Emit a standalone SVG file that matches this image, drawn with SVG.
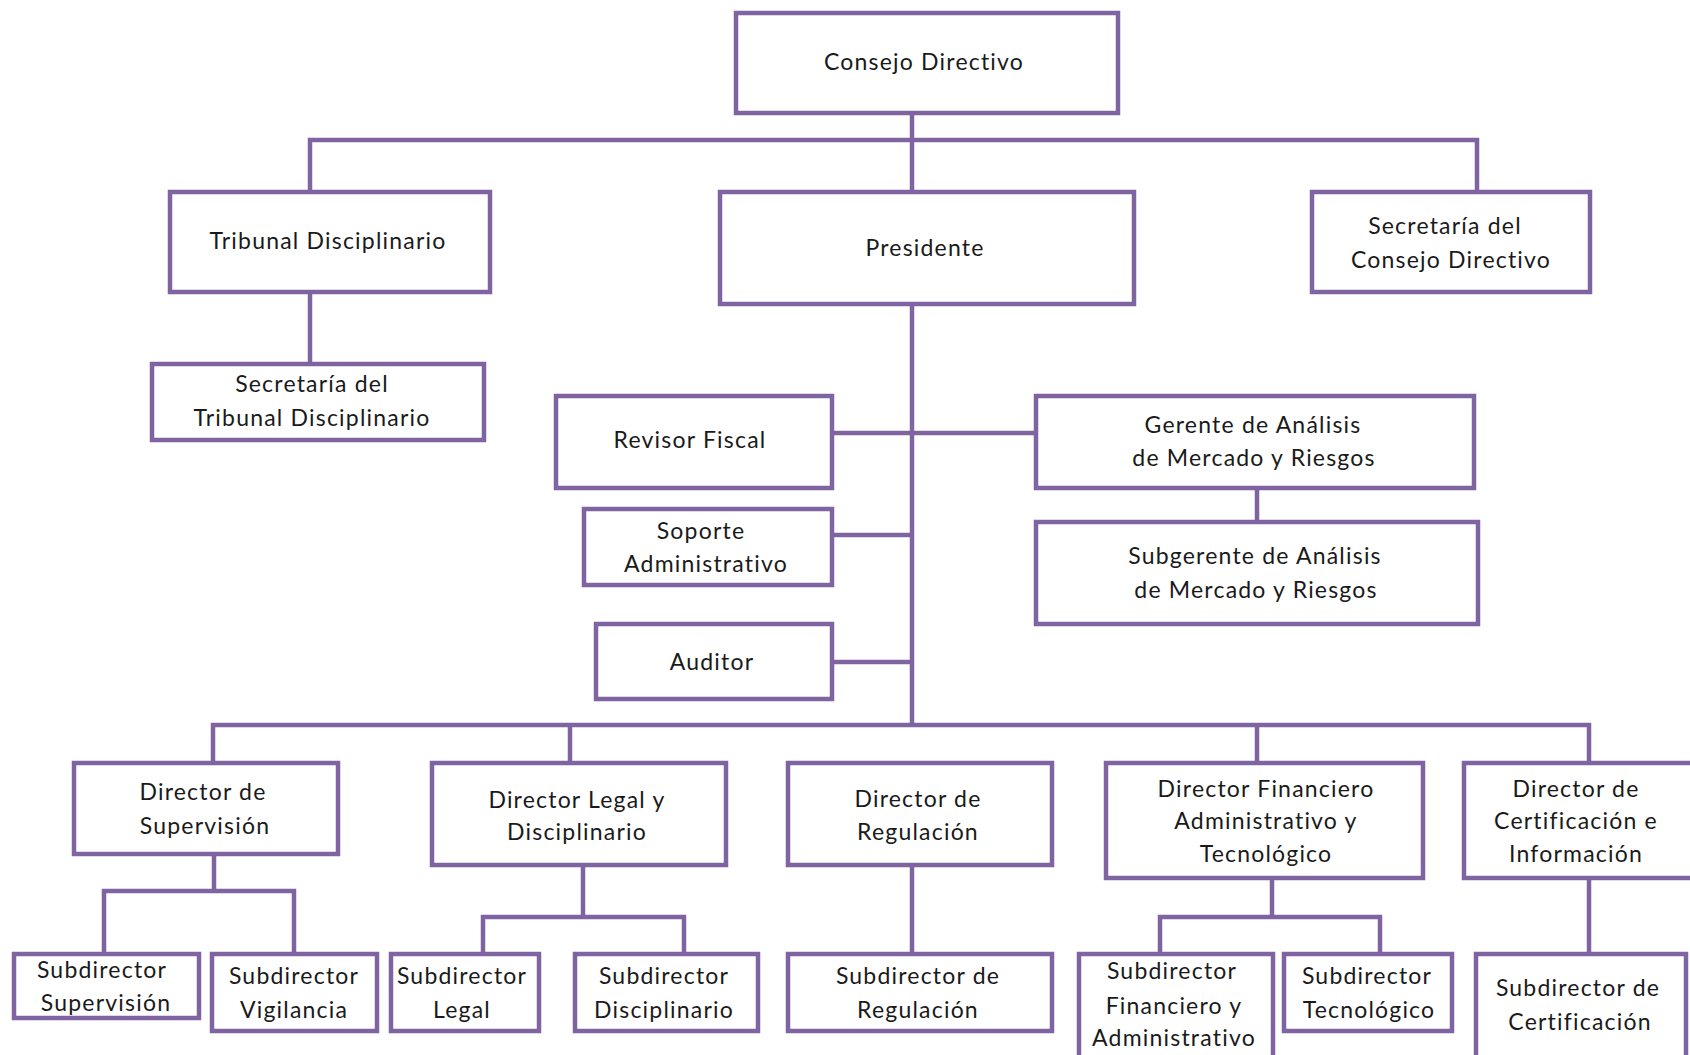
<svg xmlns="http://www.w3.org/2000/svg" width="1690" height="1055" viewBox="0 0 1690 1055">
<style>
.box{fill:#fff;stroke:#8064A2;stroke-width:4.5}
.ln{fill:none;stroke:#8064A2;stroke-width:4.5;stroke-linecap:square}
text{font-family:Lato,"Open Sans","Liberation Sans",sans-serif;font-size:23px;fill:#1a1a1a;text-anchor:middle;letter-spacing:1.2px}
</style>
<rect width="1690" height="1055" fill="#fff"/>
<g id="connectors">
<path class="ln" d="M912 113V192M912 305V725M310 140H1477M310 140V192M1477 140V192M310 292V364M832 433H1036M1257 488V522M832 535H912M832 662H912M213 725H1589M213 725V763M570 725V763M1257 725V763M1589 725V763M214 854V891M104 891H294M104 891V954M294 891V954M583 865V917M483 917H684M483 917V954M684 917V954M912 865V954M1272 878V917M1160 917H1380M1160 917V954M1380 917V954M1589 878V954"/>
</g>
<g id="consejo"><rect class="box" x="736" y="13" width="382" height="100"/><text x="924" y="70">Consejo Directivo</text></g>
<g id="tribunal"><rect class="box" x="170" y="192" width="320" height="100"/><text x="328" y="249">Tribunal Disciplinario</text></g>
<g id="sec-tribunal"><rect class="box" x="152" y="364" width="332" height="76"/><text x="312" y="392">Secretaría del</text><text x="312" y="426">Tribunal Disciplinario</text></g>
<g id="presidente"><rect class="box" x="720" y="192" width="414" height="112"/><text x="925" y="256">Presidente</text></g>
<g id="sec-consejo"><rect class="box" x="1312" y="192" width="278" height="100"/><text x="1445" y="234">Secretaría del</text><text x="1451" y="268">Consejo Directivo</text></g>
<g id="revisor"><rect class="box" x="556" y="396" width="276" height="92"/><text x="690" y="448">Revisor Fiscal</text></g>
<g id="gerente"><rect class="box" x="1036" y="396" width="438" height="92"/><text x="1253" y="433">Gerente de Análisis</text><text x="1254" y="466">de Mercado y Riesgos</text></g>
<g id="subgerente"><rect class="box" x="1036" y="522" width="442" height="102"/><text x="1255" y="564">Subgerente de Análisis</text><text x="1256" y="598">de Mercado y Riesgos</text></g>
<g id="soporte"><rect class="box" x="584" y="509" width="248" height="76"/><text x="701" y="539">Soporte</text><text x="706" y="572">Administrativo</text></g>
<g id="auditor"><rect class="box" x="596" y="624" width="236" height="75"/><text x="712" y="670">Auditor</text></g>
<g id="dir-supervision"><rect class="box" x="74" y="763" width="264" height="91"/><text x="203" y="800">Director de</text><text x="205" y="834">Supervisión</text></g>
<g id="dir-legal"><rect class="box" x="432" y="763" width="294" height="102"/><text x="577" y="808">Director Legal y</text><text x="577" y="840">Disciplinario</text></g>
<g id="dir-regulacion"><rect class="box" x="788" y="763" width="264" height="102"/><text x="918" y="807">Director de</text><text x="918" y="840">Regulación</text></g>
<g id="dir-financiero"><rect class="box" x="1106" y="763" width="317" height="115"/><text x="1266" y="797">Director Financiero</text><text x="1266" y="829">Administrativo y</text><text x="1266" y="862">Tecnológico</text></g>
<g id="dir-certificacion"><rect class="box" x="1464" y="763" width="240" height="115"/><text x="1576" y="797">Director de</text><text x="1576" y="829">Certificación e</text><text x="1576" y="862">Información</text></g>
<g id="sub-supervision"><rect class="box" x="14" y="954" width="185" height="64"/><text x="102" y="978">Subdirector</text><text x="106" y="1011">Supervisión</text></g>
<g id="sub-vigilancia"><rect class="box" x="212" y="954" width="165" height="77"/><text x="294" y="984">Subdirector</text><text x="294" y="1018">Vigilancia</text></g>
<g id="sub-legal"><rect class="box" x="391" y="954" width="148" height="77"/><text x="462" y="984">Subdirector</text><text x="462" y="1018">Legal</text></g>
<g id="sub-disciplinario"><rect class="box" x="575" y="954" width="183" height="77"/><text x="664" y="984">Subdirector</text><text x="664" y="1018">Disciplinario</text></g>
<g id="sub-regulacion"><rect class="box" x="788" y="954" width="264" height="77"/><text x="918" y="984">Subdirector de</text><text x="918" y="1018">Regulación</text></g>
<g id="sub-financiero"><rect class="box" x="1079" y="954" width="194" height="110"/><text x="1172" y="979">Subdirector</text><text x="1174" y="1014">Financiero y</text><text x="1174" y="1046">Administrativo</text></g>
<g id="sub-tecnologico"><rect class="box" x="1284" y="954" width="168" height="77"/><text x="1367" y="984">Subdirector</text><text x="1369" y="1018">Tecnológico</text></g>
<g id="sub-certificacion"><rect class="box" x="1476" y="954" width="210" height="110"/><text x="1578" y="996">Subdirector de</text><text x="1580" y="1030">Certificación</text></g>
</svg>
